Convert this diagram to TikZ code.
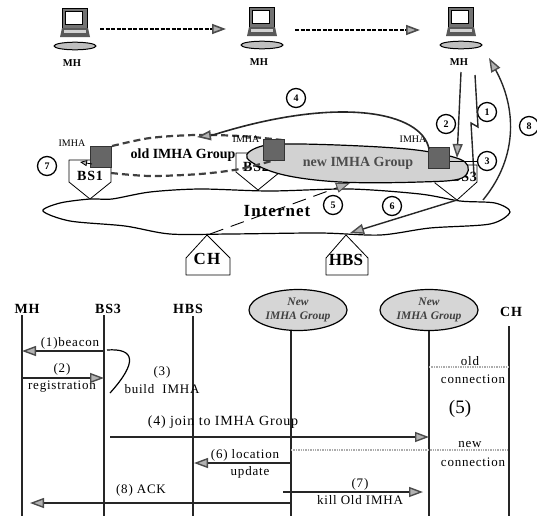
\documentclass[tikz,border=0pt]{standalone}
\usepackage{fontspec}
\setmainfont{Liberation Serif}
\newfontfamily\spaced[LetterSpace=6]{Liberation Serif}
\usetikzlibrary{arrows.meta,shapes.geometric}
\tikzset{
 gtip/.style={-{Triangle[fill=gray!60,color=black!70,length=14pt,width=10pt]}},
 wire/.style={line width=1.4pt,draw=black!85},
 life/.style={line width=1.5pt,draw=black!85},
 num/.style={circle,draw,line width=1.3pt,minimum size=19pt,inner sep=0pt,fill=white,font=\bfseries\fontsize{10}{10}\selectfont},
 lab/.style={inner sep=0pt,font=\spaced\fontsize{13}{13}\selectfont},
 big/.style={inner sep=0pt,font=\bfseries\spaced\fontsize{14}{14}\selectfont},
 small/.style={inner sep=0pt,font=\bfseries\fontsize{10.5}{10.5}\selectfont},
 imha/.style={inner sep=0pt,font=\fontsize{10}{10}\selectfont},
 sq/.style={fill=black!60,draw=black!80,inner sep=0pt,minimum width=21pt,minimum height=21pt},
 gp/.style={ellipse,draw,line width=1.2pt,fill=gray!32,minimum width=98pt,minimum height=41pt,inner sep=0pt,align=center,font=\bfseries\itshape\fontsize{11.5}{14}\selectfont,text=black!75},
 faint/.style={gray!65,densely dotted,line width=1.4pt},
 pent/.style={draw,line width=.8pt,fill=white,line join=round},
 laptop/.pic={
  \draw[line width=.8pt,fill=black!55] (-12.5,-26) rectangle (12.5,-6);
  \draw[line width=.6pt,fill=white] (-9.5,-23) rectangle (7,-10);
  \fill[black!65] (-13,-6) -- (13,-6) -- (15,3) -- (-15,3) -- cycle;
  \fill[gray!35] (-11,-4) rectangle (11,-1);
  \draw[line width=1pt,fill=gray!50] (0,12) ellipse (21pt and 3.8pt);
 }
}
\begin{document}
\begin{tikzpicture}[x=1pt,y=-1pt]
\useasboundingbox (0,0) rectangle (537,520);
% laptops
\pic at (75,34) {laptop};
\pic at (262,33) {laptop};
\pic at (461,33) {laptop};
\node[small] (mh1) at (72,63) {MH};
\node[small] (mh2) at (259,62) {MH};
\node[small] (mh3) at (459,62) {MH};
\coordinate (l1) at (100,29); \coordinate (l1e) at (226,29);
\coordinate (l2) at (295,30); \coordinate (l2e) at (420,30);
\draw[gtip,line width=1.6pt,dash pattern=on 4pt off 1.5pt] (l1) -- (l1e);
\draw[gtip,line width=1.6pt,dash pattern=on 4pt off 1.5pt] (l2) -- (l2e);
% Internet cloud
\draw[line width=1.2pt,fill=white] plot[smooth cycle,tension=.5] coordinates {(43,211) (60,203) (90,199) (112,199) (150,192) (200,189) (270,191) (350,189) (420,194) (460,201) (495,203) (510,212) (490,224) (430,228) (380,235) (320,233) (230,234) (170,234) (125,226) (70,221)};
\node[inner sep=0pt,font=\bfseries\spaced\fontsize{17}{17}\selectfont] (net) at (277,211) {Internet};
% base stations
\draw[pent] (69,160) -- (69,182) -- (90,199) -- (111,182) -- (111,160) -- cycle;
\draw[pent] (236,153) -- (236,172) -- (258,190) -- (280,172) -- (280,153) -- cycle;
\draw[pent] (435,165) -- (435,183) -- (457,200) -- (477,182) -- (477,165) -- cycle;
\draw[pent] (186,258) -- (207,235) -- (230,258) -- (230,275) -- (186,275) -- cycle;
\draw[pent] (326,258) -- (346,235) -- (368,258) -- (368,275) -- (326,275) -- cycle;
\node[big] (bs1) at (90,176) {BS1};
\node[big] (bs2) at (256,167) {BS2};
\node[big] (bs3) at (464,177) {BS3};
\node[inner sep=0pt,font=\bfseries\spaced\fontsize{17}{17}\selectfont] (ch) at (207,259) {CH};
\node[inner sep=0pt,font=\bfseries\fontsize{17}{17}\selectfont] (hbs) at (346,260) {HBS};
% new group
\draw[line width=1.2pt,fill=gray!35] plot[smooth cycle,tension=.6] coordinates {(247,158) (262,146) (300,144) (380,147) (430,152) (465,162) (462,178) (420,182) (340,182) (280,174)};
\node[inner sep=0pt,font=\bfseries\fontsize{14}{14}\selectfont,text=black!70] (newg) at (358,163) {new IMHA Group};
% old group
\draw[line width=2.2pt,draw=black!75,dash pattern=on 7pt off 4pt] plot[smooth,tension=.5] coordinates {(111,173) (150,176) (200,174) (240,169) (275,160)};
\draw[line width=2.2pt,draw=black!75,dash pattern=on 7pt off 4pt] plot[smooth,tension=.5] coordinates {(112,146) (150,138) (195,135) (240,136) (282,140)};
\node[inner sep=0pt,font=\bfseries\fontsize{14}{14}\selectfont] (oldg) at (183,155) {old IMHA Group};
% IMHA squares
\node[sq] (s1) at (101,157) {};
\node[sq] (s2) at (274,150) {};
\node[sq] (s3) at (439,158) {};
\node[imha] (im1) at (72,143) {IMHA};
\node[imha] (im2) at (246,139) {IMHA};
\node[imha] (im3) at (413,139) {IMHA};
% numbered circles
\node[num] (n7) at (47,166) {7};
\node[num] (n4) at (296,98) {4};
\node[num] (n2) at (446,124) {2};
\node[num] (n1) at (487,112) {1};
\node[num] (n3) at (487,161) {3};
\node[num] (n8) at (529,126) {8};
\node[num] (n5) at (333,205) {5};
\node[num] (n6) at (392,206) {6};
% top connectors
\coordinate (a4s) at (429,149); \coordinate (a4e) at (197,137);
\draw[gtip,wire,line width=1.6pt] (a4s) .. controls (422,112) and (340,95) .. (213,135) -- (a4e);
\coordinate (a2s) at (461,72); \coordinate (a2e) at (457,158);
\draw[gtip,wire] (a2s) -- (a2e);
\coordinate (b1) at (475,75); \coordinate (b2) at (478,127); \coordinate (b3) at (471,123); \coordinate (b4) at (474,175);
\draw[wire] (b1) -- (b2) -- (b3) -- (b4);
\draw[line width=.9pt] (s3.east |- n3) -- (n3);
\coordinate (a8s) at (483,200); \coordinate (a8e) at (489,58);
\draw[gtip,wire] (a8s) .. controls (520,155) and (515,105) .. (a8e);
\coordinate (a6s) at (457,200); \coordinate (a6e) at (350,233);
\draw[gtip,wire] (a6s) -- (a6e);
\coordinate (a5s) at (210,234); \coordinate (a5e) at (350,183);
\draw[gtip,line width=.9pt,dash pattern=on 14pt off 8pt] (a5s) -- (a5e);
\coordinate (a7s) at (92,164); \coordinate (a7e) at (80,162);
\draw[-{Triangle[fill=gray!60,length=7pt,width=6pt]},line width=.8pt] (a7s) -- (a7e);
% sequence heads
\node[big] (hmh) at (27,309) {MH};
\node[big] (hbs3) at (108,309) {BS3};
\node[big] (hhbs) at (188,309) {HBS};
\node[big] (hch) at (511,312) {CH};
\node[gp] (g1) at (298,310) {New\\IMHA Group};
\node[gp] (g2) at (429,310) {New\\IMHA Group};
% lifelines
\coordinate (e1) at (22,516); \coordinate (e2) at (104,516); \coordinate (e3) at (193,516);
\coordinate (e4) at (291,516); \coordinate (e5) at (429,516); \coordinate (e6) at (509,516);
\draw[life] (22,315) -- (e1);
\draw[life] (104,315) -- (e2);
\draw[life] (193,316) -- (e3);
\draw[life] (291,331) -- (e4);
\draw[life] (429,331) -- (e5);
\draw[life] (509,326) -- (e6);
% messages
\draw[gtip,wire] (104,351) -- (22,351);
\node[lab] (m1) at (70,343) {(1)beacon};
\draw[gtip,wire] (22,378) -- (104,378);
\node[lab] (m2) at (62,369) {(2)};
\node[lab] (m2b) at (62,387) {registration};
\draw[line width=1.2pt] (107,350) .. controls (135,348) and (138,362) .. (110,393);
\node[lab] (m3) at (162,372) {(3)};
\node[lab] (m3b) at (162,389) {build\ \ IMHA};
\node[inner sep=0pt,font=\spaced\fontsize{14}{14}\selectfont] (m4) at (223,422) {(4) join to IMHA Group};
\draw[gtip,wire] (110,437) -- (429,437);
\draw[faint] (291,450) -- (509,450);
\draw[faint] (429,367) -- (509,367);
\node[lab] (m6) at (245,455) {(6) location};
\node[lab] (m6b) at (250,472) {update};
\draw[gtip,wire] (291,463) -- (194,463);
\node[lab] (m8) at (141,490) {(8) ACK};
\draw[gtip,wire] (291,503) -- (30,503);
\node[lab] (m7) at (360,484) {(7)};
\draw[gtip,wire] (283,492) -- (423,492);
\node[lab] (m7b) at (360,500) {kill Old IMHA};
\node[lab] (o1) at (470,361) {old};
\node[lab] (o2) at (473,379) {connection};
\node[inner sep=0pt,font=\fontsize{19}{19}\selectfont] (five) at (460,409) {(5)};
\node[lab] (o3) at (470,444) {new};
\node[lab] (o4) at (473,462) {connection};
\end{tikzpicture}
\end{document}
